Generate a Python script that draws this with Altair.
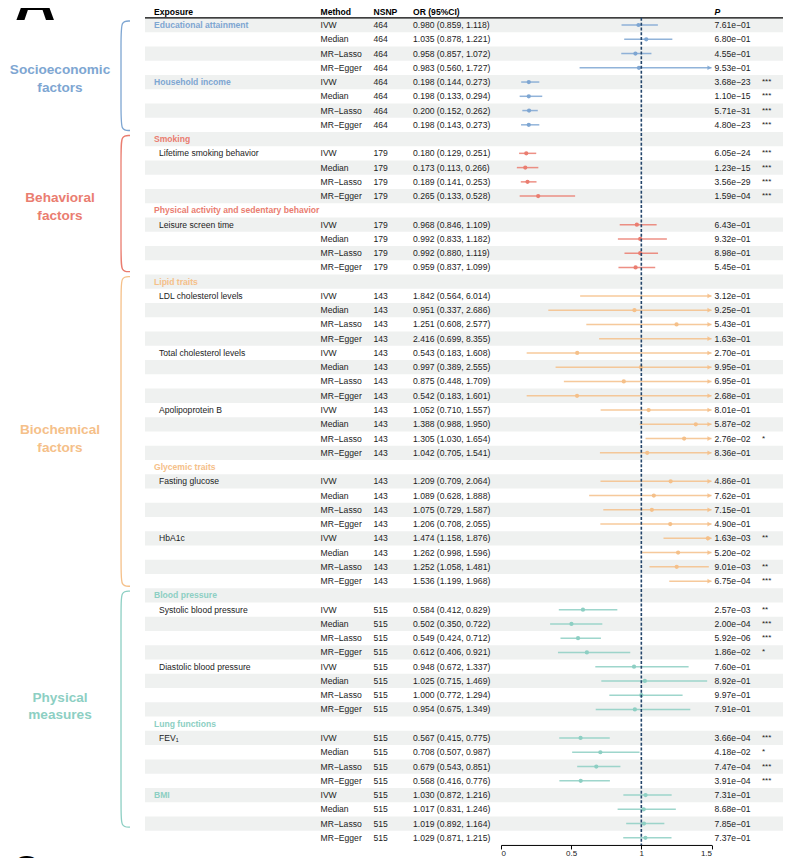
import altair as alt
import pandas as pd

# ---------------- data ----------------
categories = ["Socioeconomic factors", "Behavioral factors", "Biochemical factors", "Physical measures"]
category_labels = ["Socioeconomic\nfactors", "Behavioral\nfactors", "Biochemical\nfactors", "Physical\nmeasures"]
category_colors = ["#7EA6D2", "#EA7D70", "#F5C089", "#8DCFC3"]

exposures = ["Educational attainment", "Household income", "Lifetime smoking behavior",
             "Leisure screen time", "LDL cholesterol levels", "Total cholesterol levels",
             "Apolipoprotein B", "Fasting glucose", "HbA1c", "Systolic blood pressure",
             "Diastolic blood pressure", "FEV\u2081", "BMI"]
exposure_category = [0, 0, 1, 1, 2, 2, 2, 2, 2, 3, 3, 3, 3]
exposure_subheader = ["", "", "Smoking", "Physical activity and sedentary behavior", "Lipid traits",
                      "", "", "Glycemic traits", "", "Blood pressure", "", "Lung functions", ""]
exposure_is_heading = [True, True, False, False, False, False, False, False, False,
                       False, False, False, True]
exposure_nsnp = [464, 464, 179, 179, 143, 143, 143, 143, 143, 515, 515, 515, 515]
methods = ["IVW", "Median", "MR\u2212Lasso", "MR\u2212Egger"]

or_est = [
    [0.980, 1.035, 0.958, 0.983],
    [0.198, 0.198, 0.200, 0.198],
    [0.180, 0.173, 0.189, 0.265],
    [0.968, 0.992, 0.992, 0.959],
    [1.842, 0.951, 1.251, 2.416],
    [0.543, 0.997, 0.875, 0.542],
    [1.052, 1.388, 1.305, 1.042],
    [1.209, 1.089, 1.075, 1.206],
    [1.474, 1.262, 1.252, 1.536],
    [0.584, 0.502, 0.549, 0.612],
    [0.948, 1.025, 1.000, 0.954],
    [0.567, 0.708, 0.679, 0.568],
    [1.030, 1.017, 1.019, 1.029],
]
ci_low = [
    [0.859, 0.878, 0.857, 0.560],
    [0.144, 0.133, 0.152, 0.143],
    [0.129, 0.113, 0.141, 0.133],
    [0.846, 0.833, 0.880, 0.837],
    [0.564, 0.337, 0.608, 0.699],
    [0.183, 0.389, 0.448, 0.183],
    [0.710, 0.988, 1.030, 0.705],
    [0.709, 0.628, 0.729, 0.708],
    [1.158, 0.998, 1.058, 1.199],
    [0.412, 0.350, 0.424, 0.406],
    [0.672, 0.715, 0.772, 0.675],
    [0.415, 0.507, 0.543, 0.416],
    [0.872, 0.831, 0.892, 0.871],
]
ci_high = [
    [1.118, 1.221, 1.072, 1.727],
    [0.273, 0.294, 0.262, 0.273],
    [0.251, 0.266, 0.253, 0.528],
    [1.109, 1.182, 1.119, 1.099],
    [6.014, 2.686, 2.577, 8.355],
    [1.608, 2.555, 1.709, 1.601],
    [1.557, 1.950, 1.654, 1.541],
    [2.064, 1.888, 1.587, 2.055],
    [1.876, 1.596, 1.481, 1.968],
    [0.829, 0.722, 0.712, 0.921],
    [1.337, 1.469, 1.294, 1.349],
    [0.775, 0.987, 0.851, 0.776],
    [1.216, 1.246, 1.164, 1.215],
]
p_values = [
    [7.61e-01, 6.80e-01, 4.55e-01, 9.53e-01],
    [3.68e-23, 1.10e-15, 5.71e-31, 4.80e-23],
    [6.05e-24, 1.23e-15, 3.56e-29, 1.59e-04],
    [6.43e-01, 9.32e-01, 8.98e-01, 5.45e-01],
    [3.12e-01, 9.25e-01, 5.43e-01, 1.63e-01],
    [2.70e-01, 9.95e-01, 6.95e-01, 2.68e-01],
    [8.01e-01, 5.87e-02, 2.76e-02, 8.36e-01],
    [4.86e-01, 7.62e-01, 7.15e-01, 4.90e-01],
    [1.63e-03, 5.20e-02, 9.01e-03, 6.75e-04],
    [2.57e-03, 2.00e-04, 5.92e-06, 1.86e-02],
    [7.60e-01, 8.92e-01, 9.97e-01, 7.91e-01],
    [3.66e-04, 4.18e-02, 7.47e-04, 3.91e-04],
    [7.31e-01, 8.68e-01, 7.85e-01, 7.37e-01],
]
x_ticks = [0, 0.5, 1, 1.5]
x_limit = 1.5
null_line = 1.0
header_labels = ["Exposure", "Method", "NSNP", "OR (95%CI)"]

# ---------------- build table ----------------
def stars(p):
    if p < 0.001:
        return "***"
    if p < 0.01:
        return "**"
    if p < 0.05:
        return "*"
    return ""

def fmt_p(p):
    return f"{p:.2e}".replace("-", "\u2212")

labels, rows_data = [], []
row = 1
cat_rows = {c: [] for c in categories}
for i, exp in enumerate(exposures):
    cat = categories[exposure_category[i]]
    if exposure_subheader[i]:
        labels.append({"row": row, "label": exposure_subheader[i], "style": "group", "cat": cat})
        cat_rows[cat].append(row)
        row += 1
    for m in range(4):
        if m == 0:
            labels.append({"row": row, "label": exp,
                           "style": "group" if exposure_is_heading[i] else "sub", "cat": cat})
        o, lo, hi, p = or_est[i][m], ci_low[i][m], ci_high[i][m], p_values[i][m]
        rows_data.append({
            "row": row, "cat": cat, "method": methods[m], "nsnp": str(exposure_nsnp[i]),
            "or": o, "lo": lo, "hi": hi, "hi_c": min(hi, x_limit),
            "or_text": f"{o:.3f} ({lo:.3f}, {hi:.3f})",
            "p_text": fmt_p(p), "stars": stars(p),
        })
        cat_rows[cat].append(row)
        row += 1
n_rows = row - 1

df = pd.DataFrame(rows_data)
lab = pd.DataFrame(labels)
pts = df[df["or"] <= x_limit]
arr = df[df["hi"] > x_limit].assign(ax=x_limit)
stripe = pd.DataFrame({"y0": [r - 0.5 for r in range(1, n_rows + 1, 2)],
                       "y1": [r + 0.5 for r in range(1, n_rows + 1, 2)]})

# ---------------- layout / style ----------------
M = 8  # page margin
def cx(px):
    return px - M

FONT = "Liberation Sans"
FS = 8.6
TXT = "#1c1c1c"
ROW1 = cx(25)
STEP = 14.26
W = 776
H = ROW1 + (n_rows - 0.5) * STEP   # plot area ends where the last row ends (axis line)
PAD_B = 13

y_scale = alt.Scale(domain=[0.5, n_rows + 0.5],
                    range=[ROW1 - STEP / 2, H], zero=False, nice=False)
x_px0, x_px1 = cx(501), cx(711.5)
x_scale = alt.Scale(domain=[0, x_limit], range=[x_px0, x_px1], zero=False, nice=False)
X_AXIS = alt.Axis(values=x_ticks, format="~g", title=None, grid=False, domainColor="black",
                  domainWidth=1, tickColor="black", tickWidth=1, tickSize=4, labelFont=FONT,
                  labelFontSize=8, labelColor="#222222", labelPadding=1)
COLOR = alt.Color("cat:N", scale=alt.Scale(domain=categories, range=category_colors), legend=None)

def X(field):
    return alt.X(field, scale=x_scale, axis=X_AXIS)

def Y(field):
    return alt.Y(field, scale=y_scale, axis=None)

def px_to_or(px):
    return (px - x_px0) * x_limit / (x_px1 - x_px0)

# braces (decoration): extents in row units around each category
brace_pad = [(-0.28, 0.4), (-0.25, 0.3), (-0.35, 0.36), (-0.3, -0.75)]
label_shift = [0.3, 0.27, 0.53, -0.7]
bx_line, bx_end = px_to_or(cx(121)), px_to_or(cx(130))
brace_pts, cat_lab = [], []
for k, c in enumerate(categories):
    r0, r1 = min(cat_rows[c]), max(cat_rows[c])
    t, b = r0 + brace_pad[k][0], r1 + brace_pad[k][1]
    ctrl = [(bx_end, t), (bx_line, t), (bx_line, t + 1.1), (bx_line, b - 1.1), (bx_line, b), (bx_end, b)]
    for j, (bx, by) in enumerate(ctrl):
        brace_pts.append({"cat": c, "k": j, "bx": bx, "by": by})
    cat_lab.append({"cat": c, "lab": category_labels[k], "ly": (r0 + r1) / 2 + label_shift[k]})
brace_df = pd.DataFrame(brace_pts)
cat_df = pd.DataFrame(cat_lab)

# ---------------- layers ----------------
stripes = alt.Chart(stripe).mark_rect(color="#EFF1F0").encode(
    x=alt.value(cx(145)), x2=alt.value(cx(783)), y=Y("y0:Q"), y2="y1:Q")

header_line = alt.Chart(pd.DataFrame({"y": [0.5]})).mark_rule(color="black", strokeWidth=1.3).encode(
    x=alt.value(cx(145)), x2=alt.value(cx(783)), y=Y("y:Q"))

ci = alt.Chart(df).mark_rule(strokeWidth=1.5, opacity=0.85).encode(
    x=X("lo:Q"), x2="hi_c:Q", y=Y("row:Q"), color=COLOR)

arrows = alt.Chart(arr).mark_point(shape="triangle-right", filled=True, size=22, opacity=0.9,
                                   xOffset=-2).encode(x=X("ax:Q"), y=Y("row:Q"), color=COLOR)

points = alt.Chart(pts).mark_circle(size=18, opacity=1).encode(
    x=X("or:Q"), y=Y("row:Q"), color=COLOR)

dashed = alt.Chart(pd.DataFrame({"x": [null_line], "y0": [0.5], "y1": [n_rows + 0.5]})).mark_rule(
    color="#23456B", strokeWidth=1.6, strokeDash=[3, 1.8]).encode(
    x=X("x:Q"), y=Y("y0:Q"), y2="y1:Q")

braces = alt.Chart(brace_df).mark_line(interpolate="basis", strokeWidth=1.3).encode(
    x=X("bx:Q"), y=Y("by:Q"), color=COLOR, order="k:Q")

def text_layer(data, field, xpx, color=TXT, **kw):
    enc = dict(x=alt.value(cx(xpx)), y=Y("row:Q"), text=f"{field}:N")
    mk = dict(align="left", baseline="middle", font=FONT, fontSize=FS)
    mk.update(kw)
    ch = alt.Chart(data).mark_text(**mk)
    if color == "cat":
        return ch.encode(color=COLOR, **enc)
    return ch.encode(color=alt.value(color), **enc)

group_lab = text_layer(lab[lab["style"] == "group"], "label", 154, color="cat", fontWeight="bold")
sub_lab = text_layer(lab[lab["style"] == "sub"], "label", 159)
method_t = text_layer(df, "method", 320.5)
nsnp_t = text_layer(df, "nsnp", 373.5)
or_t = text_layer(df, "or_text", 413)
p_t = text_layer(df, "p_text", 714.5)
star_t = text_layer(df, "stars", 762, fontSize=8)

hdr = pd.DataFrame({"row": [0] * 4, "label": header_labels, "px": [154, 320.5, 373.5, 413]})
headers = [text_layer(hdr.iloc[[i]], "label", hdr["px"][i], color="black", fontWeight="bold", dy=0.8)
           for i in range(4)]
p_hdr = text_layer(pd.DataFrame({"row": [0], "label": ["P"]}), "label", 714.5, color="black",
                   fontWeight="bold", fontStyle="italic", dy=0.8)

LH = 17.5
cat_text = alt.Chart(cat_df).mark_text(align="center", baseline="middle", font=FONT, fontSize=13.6,
                                       fontWeight="bold", lineBreak="\n", lineHeight=LH,
                                       dy=-LH / 2).encode(
    x=alt.value(cx(60)), y=Y("ly:Q"), text="lab:N", color=COLOR)

letter_a = alt.Chart(pd.DataFrame({"t": ["A"]})).mark_text(
    align="left", baseline="alphabetic", font=FONT, fontSize=56, fontWeight="bold", color="black").encode(
    x=alt.value(cx(15)), y=alt.value(cx(20)), text="t:N")
letter_c = alt.Chart(pd.DataFrame({"t": ["C"]})).mark_text(
    align="left", baseline="alphabetic", font=FONT, fontSize=36, fontWeight="bold", color="black").encode(
    x=alt.value(cx(13)), y=alt.value(H + PAD_B + 22), text="t:N")

chart = alt.layer(
    stripes, header_line, braces, ci, arrows, points, dashed,
    group_lab, sub_lab, method_t, nsnp_t, or_t, p_t, star_t, *headers, p_hdr, cat_text,
    letter_a, letter_c,
).properties(
    width=W, height=H,
    autosize=alt.AutoSizeParams(type="none"),
    padding={"left": 0, "top": 0, "right": 0, "bottom": PAD_B},
).configure_view(stroke=None)

chart.save("out.html", embed_options={"renderer": "svg", "actions": False})
